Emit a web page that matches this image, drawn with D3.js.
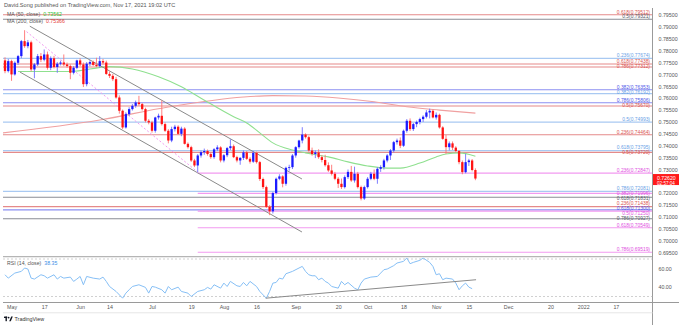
<!DOCTYPE html>
<html><head><meta charset="utf-8">
<script src="https://cdn.jsdelivr.net/npm/d3@7"></script>
<style>
html,body{margin:0;padding:0;background:#fff;}
svg{display:block;font-family:"Liberation Sans",Arial,sans-serif;}
</style></head><body>
<svg id="chart" width="679" height="325"></svg>
<script>
// AUD/USD daily candles, one row per trading day from 2021-04-29 to 2021-11-17: [open, high, low, close]
const ohlc = [
[.7759,.7772,.7705,.7714],[.7714,.7765,.7708,.7756],[.7756,.7762,.7673,.7700],[.7700,.7755,.7695,.7749],
[.7749,.7782,.7740,.7777],[.7777,.7845,.7768,.7840],[.7840,.7886,.7812,.7819],[.7819,.7845,.7810,.7835],
[.7835,.7842,.7713,.7721],[.7721,.7748,.7684,.7742],[.7742,.7786,.7735,.7777],[.7777,.7790,.7752,.7762],
[.7762,.7805,.7755,.7784],[.7784,.7796,.7720,.7728],[.7728,.7776,.7718,.7768],[.7768,.7778,.7725,.7731],
[.7731,.7752,.7707,.7745],[.7745,.7758,.7738,.7750],[.7750,.7784,.7735,.7742],[.7742,.7750,.7728,.7735],
[.7735,.7742,.7680,.7707],[.7707,.7735,.7700,.7728],[.7728,.7762,.7722,.7759],[.7759,.7768,.7735,.7742],
[.7742,.7750,.7647,.7659],[.7659,.7752,.7650,.7745],[.7745,.7760,.7735,.7752],[.7752,.7758,.7736,.7740],
[.7740,.7770,.7730,.7735],[.7735,.7777,.7728,.7756],[.7756,.7765,.7742,.7750],[.7750,.7758,.7698,.7702],
[.7702,.7712,.7685,.7694],[.7694,.7702,.7672,.7680],[.7680,.7690,.7598,.7603],[.7603,.7612,.7535,.7547],
[.7547,.7552,.7470,.7477],[.7477,.7540,.7472,.7533],[.7533,.7562,.7525,.7554],[.7554,.7575,.7548,.7568],
[.7568,.7590,.7560,.7582],[.7582,.7610,.7568,.7575],[.7575,.7580,.7548,.7554],[.7554,.7560,.7498,.7505],
[.7505,.7512,.7490,.7498],[.7498,.7505,.7455,.7463],[.7463,.7522,.7455,.7519],[.7519,.7535,.7510,.7526],
[.7526,.7590,.7485,.7491],[.7491,.7498,.7458,.7463],[.7463,.7470,.7410,.7422],[.7422,.7480,.7415,.7470],
[.7470,.7488,.7460,.7480],[.7480,.7486,.7445,.7450],[.7450,.7480,.7440,.7472],[.7472,.7478,.7405,.7408],
[.7408,.7414,.7388,.7394],[.7394,.7400,.7332,.7338],[.7338,.7345,.7310,.7317],[.7317,.7365,.7289,.7359],
[.7359,.7380,.7350,.7373],[.7373,.7388,.7362,.7378],[.7378,.7384,.7358,.7365],[.7365,.7372,.7345,.7352],
[.7352,.7390,.7345,.7385],[.7385,.7402,.7378,.7393],[.7393,.7398,.7330,.7338],[.7338,.7365,.7330,.7360],
[.7360,.7395,.7352,.7390],[.7390,.7427,.7382,.7398],[.7398,.7405,.7348,.7352],[.7352,.7358,.7330,.7338],
[.7338,.7352,.7320,.7349],[.7349,.7380,.7340,.7372],[.7372,.7378,.7340,.7345],[.7345,.7352,.7325,.7333],
[.7333,.7378,.7328,.7370],[.7370,.7375,.7325,.7331],[.7331,.7336,.7252,.7260],[.7260,.7266,.7218,.7226],
[.7226,.7232,.7138,.7143],[.7143,.7150,.7108,.7124],[.7124,.7206,.7115,.7201],[.7201,.7266,.7195,.7261],
[.7261,.7280,.7255,.7271],[.7271,.7276,.7225,.7240],[.7240,.7312,.7232,.7307],[.7307,.7320,.7295,.7310],
[.7310,.7365,.7302,.7359],[.7359,.7398,.7350,.7394],[.7394,.7425,.7388,.7422],[.7422,.7478,.7410,.7447],
[.7447,.7452,.7430,.7436],[.7436,.7442,.7375,.7380],[.7380,.7392,.7358,.7365],[.7365,.7380,.7348,.7372],
[.7372,.7385,.7345,.7352],[.7352,.7360,.7330,.7340],[.7340,.7362,.7312,.7318],[.7318,.7330,.7290,.7296],
[.7296,.7320,.7275,.7282],[.7282,.7290,.7255,.7261],[.7261,.7268,.7222,.7240],[.7240,.7262,.7218,.7226],
[.7226,.7275,.7220,.7268],[.7268,.7300,.7260,.7290],[.7290,.7315,.7248,.7254],[.7254,.7312,.7245,.7282],
[.7282,.7290,.7220,.7226],[.7226,.7232,.7170,.7178],[.7178,.7232,.7172,.7226],[.7226,.7268,.7220,.7261],
[.7261,.7290,.7255,.7282],[.7282,.7300,.7255,.7261],[.7261,.7310,.7240,.7303],[.7303,.7318,.7290,.7310],
[.7310,.7345,.7300,.7338],[.7338,.7365,.7330,.7359],[.7359,.7386,.7340,.7380],[.7380,.7420,.7372,.7415],
[.7415,.7430,.7405,.7422],[.7422,.7435,.7390,.7400],[.7400,.7468,.7395,.7463],[.7463,.7512,.7455,.7505],
[.7505,.7515,.7462,.7470],[.7470,.7496,.7462,.7491],[.7491,.7506,.7478,.7500],[.7500,.7518,.7490,.7512],
[.7512,.7528,.7500,.7522],[.7522,.7550,.7515,.7540],[.7540,.7556,.7515,.7547],[.7547,.7552,.7515,.7519],
[.7519,.7540,.7510,.7530],[.7530,.7535,.7472,.7477],[.7477,.7482,.7425,.7429],[.7429,.7445,.7366,.7394],
[.7394,.7418,.7380,.7410],[.7410,.7418,.7382,.7392],[.7392,.7398,.7372,.7378],[.7378,.7382,.7322,.7331],
[.7331,.7338,.7280,.7289],[.7289,.7366,.7284,.7331],[.7331,.7345,.7315,.7338],[.7338,.7344,.7292,.7298],
[.7298,.7305,.7255,.7262]
];
const lastPrice = 0.72620;
const countdown = "02:57:04";

// Moving averages, sampled at bar indexes
const ma50Bars   = [4, 20, 32, 39, 47, 54, 60, 70, 74, 78, 82, 88, 92, 99, 105, 111, 117, 121, 127, 132, 135, 139, 144];
const ma50Values = [.7712,.7712,.7733,.7723,.7690,.7648,.7600,.7522,.7496,.7454,.7412,.7382,.7370,.7353,.7332,.7315,.7306,.7306,.7327,.7353,.7365,.7370,.7356];
const ma200Bars   = [-2, 29, 50, 73, 82, 92, 102, 113, 123, 133, 144];
const ma200Values = [.7452,.7508,.7563,.7605,.7611,.7609,.7601,.7585,.7564,.7550,.7537];
const ma50Last = "0.73562", ma200Last = "0.75366";

// RSI(14) readings: bar index and value
const rsiBars = [0,1,3,5,6,7,8,9,11,12,13,15,16,17,18,20,21,22,23,24,25,27,29,30,31,32,34,36,37,38,39,41,43,44,45,46,48,49,50,51,53,54,56,57,59,61,62,63,64,66,67,68,69,71,72,73,74,75,77,78,80,81,82,83,84,85,86,88,90,91,92,93,94,95,96,97,98,99,100,102,103,104,105,107,108,109,110,112,114,115,116,117,119,120,122,123,124,125,127,128,130,131,132,133,134,135,137,138,139,140,141,142,143,144];
const rsiValues = [53.2,49.6,55.0,56.8,60.4,59.3,49.6,48.6,53.2,52.1,49.6,53.2,48.6,51.4,49.6,50.7,46.1,48.6,51.4,42.5,51.4,49.6,48.6,50.7,46.1,40.7,35.4,28.2,33.6,37.2,40.7,42.5,39.7,33.6,40.7,40.0,37.2,33.6,40.7,37.2,40.0,35.4,33.6,30.0,35.4,37.2,39.7,37.9,42.5,38.9,44.3,40.7,46.1,41.4,40.7,45.0,41.4,46.1,40.7,35.4,28.2,35.4,44.3,45.0,49.6,48.6,54.3,56.8,60.4,62.1,56.8,53.2,52.1,52.1,47.9,49.6,46.1,44.3,40.7,38.9,46.1,42.5,45.0,38.9,37.2,44.3,48.6,50.7,51.4,55.0,58.6,59.3,62.9,65.7,67.5,71.1,65.0,66.4,68.6,71.1,66.4,62.1,53.2,54.3,47.9,49.6,48.6,44.3,37.2,41.4,44.3,40.0,38.35];
const rsiLast = "38.35";

// Horizontal Fibonacci levels
const levelRatios = ["0.618","0.5","0.236","0.618","0.786","0.382","0.382","0.786","0.5","0.5","0.236","0.618","0.5","0.236","0.786","0.382","0.618","0.236","0.618","0.5","0.786","0.618","0.786"];
const levelPrices = [0.79512,0.79321,0.77674,0.77438,0.77312,0.76353,0.76192,0.75806,0.75670,0.74993,0.74464,0.73795,0.73720,0.72847,0.72081,0.71996,0.71831,0.71438,0.71300,0.71250,0.70927,0.70549,0.69519];
const levelGroups = ["red","gray","sky","red","red","blue","sky","blue","red","sky","red","sky","red","pink","sky","pink","gray","red","blue","pink","gray","pink","pink"];
const levelStartBars = [null,null,null,null,null,null,null,null,null,null,null,null,null,59,null,59,null,null,null,59,null,59,59];

// Trend lines: [bar, price] endpoints
const channelUpper = [[7.6, 0.79029], [90.9, 0.72601]];
const channelLower = [[4.6, 0.77098], [90.9, 0.70371]];
const fibTrend = [[6.6, 0.7880], [59, 0.7289]];
const rsiTrend = [[79.8, 28.2], [144.2, 47.9]];

// Price and time axis ticks
const priceTicks = [0.795,0.790,0.785,0.780,0.775,0.770,0.765,0.760,0.755,0.750,0.745,0.740,0.735,0.730,0.720,0.715,0.710,0.705,0.700,0.695];
const rsiTicks = [60, 40];
const timeTickDates = ["2021-05-03","2021-05-17","2021-06-01","2021-06-14","2021-07-01","2021-07-19","2021-08-02","2021-08-16","2021-09-01","2021-09-20","2021-10-01","2021-10-18","2021-11-01","2021-11-15","2021-12-01","2021-12-20","2022-01-03","2022-01-17"];
const timeTickLabels = ["May","17","Jun","14","Jul","19","Aug","16","Sep","20","Oct","18","Nov","15","Dec","20","2022","17"];

// ---- drawing ----
const svg = d3.select("#chart");
const W = 679, H = 325;
const plotL = 3, plotR = 652.5, mainTop = 10, mainBot = 256, rsiTop = 257.5, rsiBot = 302;
const colors = {red:"#e58a8a", gray:"#8a8c95", sky:"#a9c9f2", blue:"#8b8ff2", pink:"#f29af0"};
const textColors = {red:"#d9534f", gray:"#555a66", sky:"#6a9fe6", blue:"#4d55e8", pink:"#e04fe0"};

const parse = d3.timeParse("%Y-%m-%d");
const days = d3.timeDay.range(new Date(2021,3,29), new Date(2022,2,1)).filter(d => d.getDay() % 6 !== 0);
const barOf = d => days.findIndex(t => +t === +d);

const x = d3.scaleLinear().domain([0, 144]).range([5, 475.4]);
const y = d3.scaleLinear().domain([0.695, 0.795]).range([252.7, 15.0]);
const yR = d3.scaleLinear().domain([30, 70]).range([296.5, 259]);

const defs = svg.append("defs");
defs.append("clipPath").attr("id","clipMain").append("rect").attr("x",plotL).attr("y",mainTop).attr("width",plotR-plotL).attr("height",mainBot-mainTop);
defs.append("clipPath").attr("id","clipRsi").append("rect").attr("x",plotL).attr("y",rsiTop).attr("width",plotR-plotL).attr("height",rsiBot-rsiTop);

svg.append("rect").attr("width",W).attr("height",H).attr("fill","#fff");

// header
svg.append("text").attr("x",4).attr("y",7).attr("font-size",5.6).attr("fill","#555")
  .text("David.Song published on TradingView.com, Nov 17, 2021 19:02 UTC");

const main = svg.append("g").attr("clip-path","url(#clipMain)");

// horizontal levels
levelPrices.forEach((p,i) => {
  const x0 = levelStartBars[i] == null ? plotL : x(levelStartBars[i]);
  main.append("line").attr("x1",x0).attr("x2",plotR).attr("y1",y(p)).attr("y2",y(p))
    .attr("stroke",colors[levelGroups[i]]).attr("stroke-width",1.1);
});

// moving averages
const line = d3.line().curve(d3.curveMonotoneX);
main.append("path").attr("d", line(ma200Bars.map((b,i)=>[x(b), y(ma200Values[i])])))
  .attr("fill","none").attr("stroke","#f0a0a0").attr("stroke-width",1.1);
main.append("path").attr("d", line(ma50Bars.map((b,i)=>[x(b), y(ma50Values[i])])))
  .attr("fill","none").attr("stroke","#8fe08f").attr("stroke-width",1.1);

// channel and fib trend lines
[channelUpper, channelLower].forEach(seg => {
  main.append("line").attr("x1",x(seg[0][0])).attr("y1",y(seg[0][1])).attr("x2",x(seg[1][0])).attr("y2",y(seg[1][1]))
    .attr("stroke","#8a8a8a").attr("stroke-width",1);
});
main.append("line").attr("x1",x(fibTrend[0][0])).attr("y1",y(fibTrend[0][1])).attr("x2",x(fibTrend[1][0])).attr("y2",y(fibTrend[1][1]))
  .attr("stroke","#f29af0").attr("stroke-width",1).attr("stroke-dasharray","2,2");

// candles
const bw = 2.3;
const cg = main.append("g");
ohlc.forEach((d,i) => {
  const up = d[3] >= d[0];
  const c = up ? "#1b1bff" : "#ff1414";
  const cx = x(i);
  cg.append("line").attr("x1",cx).attr("x2",cx).attr("y1",y(d[1])).attr("y2",y(d[2]))
    .attr("stroke", up ? "#6f6fff" : "#ff7070").attr("stroke-width",0.9);
  const top = y(Math.max(d[0],d[3])), bot = y(Math.min(d[0],d[3]));
  cg.append("rect").attr("x",cx-bw/2).attr("y",top).attr("width",bw).attr("height",Math.max(0.8,bot-top)).attr("fill",c);
});

// level labels, nudged apart where neighbouring levels crowd each other
const labelFont = 4.9, labelGap = 4.9;
const order = d3.range(levelPrices.length).sort((a,b) => y(levelPrices[a]) - y(levelPrices[b]));
const labelY = {};
let prevY = -Infinity;
order.forEach(i => {
  let ly = y(levelPrices[i]) - 1.2;
  if (ly - prevY < labelGap) ly = prevY + labelGap;
  labelY[i] = ly; prevY = ly;
});
levelPrices.forEach((p,i) => {
  svg.append("text").attr("x",650).attr("y",labelY[i]).attr("text-anchor","end")
    .attr("font-size",labelFont).attr("fill",textColors[levelGroups[i]])
    .text(levelRatios[i] + "(" + p.toFixed(5) + ")");
});

// legend: title then value, the value placed after the measured title
function legendRow(parent, yPos, title, value, valueColor, size) {
  const t = parent.append("text").attr("x",7).attr("y",yPos).attr("font-size",size).attr("fill","#555").text(title);
  const w = t.node().getComputedTextLength();
  parent.append("text").attr("x",7 + w + 3).attr("y",yPos).attr("font-size",size).attr("fill",valueColor).text(value);
}
legendRow(svg, 16, "MA (50, close)", ma50Last, "#2fbf2f", 5.2);
legendRow(svg, 22.5, "MA (200, close)", ma200Last, "#e53935", 5.2);

// pane separators
svg.append("line").attr("x1",plotL).attr("x2",plotR).attr("y1",256.6).attr("y2",256.6).attr("stroke","#b5b5b5").attr("stroke-width",1.4);
svg.append("line").attr("x1",plotL).attr("x2",W).attr("y1",302.5).attr("y2",302.5).attr("stroke","#9a9a9a").attr("stroke-width",1);
svg.append("line").attr("x1",plotR).attr("x2",plotR).attr("y1",8).attr("y2",H).attr("stroke","#9a9a9a").attr("stroke-width",1);

// price axis
const pa = svg.append("g").attr("transform",`translate(${plotR},0)`)
  .call(d3.axisRight(y).tickValues(priceTicks).tickFormat(d3.format(".5f")).tickSize(0).tickPadding(6));
pa.select(".domain").remove();
pa.selectAll("text").attr("font-size",5.3).attr("fill","#555").attr("font-family","Liberation Sans, Arial, sans-serif");

// current price tag
const ty = y(lastPrice);
svg.append("rect").attr("x",653).attr("y",ty-4.5).attr("width",26).attr("height",11).attr("fill","#ff1a1a");
svg.append("text").attr("x",657).attr("y",ty+1.2).attr("font-size",5.2).attr("fill","#fff").text(lastPrice.toFixed(5));
svg.append("text").attr("x",657).attr("y",ty+6).attr("font-size",4.6).attr("fill","#fff").text(countdown);

// RSI pane
const rsi = svg.append("g").attr("clip-path","url(#clipRsi)");
[70,30].forEach(v => rsi.append("line").attr("x1",plotL).attr("x2",plotR).attr("y1",yR(v)).attr("y2",yR(v))
  .attr("stroke","#c4c4c4").attr("stroke-width",0.8).attr("stroke-dasharray","2,2"));
rsi.append("path").attr("d", d3.line()(rsiBars.map((b,i)=>[x(b), yR(rsiValues[i])])))
  .attr("fill","none").attr("stroke","#86bff5").attr("stroke-width",1);
rsi.append("line").attr("x1",x(rsiTrend[0][0])).attr("y1",yR(rsiTrend[0][1])).attr("x2",x(rsiTrend[1][0])).attr("y2",yR(rsiTrend[1][1]))
  .attr("stroke","#8a8a8a").attr("stroke-width",1);
legendRow(svg, 265, "RSI (14, close)", rsiLast, "#3a8ee6", 5.2);

const ra = svg.append("g").attr("transform",`translate(${plotR},0)`)
  .call(d3.axisRight(yR).tickValues(rsiTicks).tickFormat(d3.format(".2f")).tickSize(0).tickPadding(6));
ra.select(".domain").remove();
ra.selectAll("text").attr("font-size",5.3).attr("fill","#555").attr("font-family","Liberation Sans, Arial, sans-serif");

// time axis
const tickBars = timeTickDates.map(s => barOf(parse(s)));
const xa = svg.append("g").attr("transform","translate(0,302.5)")
  .call(d3.axisBottom(x).tickValues(tickBars).tickFormat((d,i) => timeTickLabels[i]).tickSize(0).tickPadding(3));
xa.select(".domain").remove();
xa.selectAll("text").attr("font-size",5.3).attr("fill","#555").attr("font-family","Liberation Sans, Arial, sans-serif");

svg.append("line").attr("x1",plotL).attr("x2",plotR).attr("y1",312.8).attr("y2",312.8).attr("stroke","#e6e6e6");

// footer brand mark and name
const fb = svg.append("g").attr("transform","translate(4,316)");
fb.append("rect").attr("x",0).attr("y",0.6).attr("width",3.2).attr("height",1.4).attr("fill","#131722");
fb.append("rect").attr("x",1.5).attr("y",0.6).attr("width",1.4).attr("height",4.6).attr("fill","#131722");
fb.append("circle").attr("cx",4.6).attr("cy",1.6).attr("r",0.9).attr("fill","#131722");
fb.append("path").attr("d","M5.2,5.2 L7.2,0.6 L8.8,0.6 L6.8,5.2 Z").attr("fill","#131722");
fb.append("text").attr("x",10.5).attr("y",5).attr("font-size",5.4).attr("fill","#333").text("TradingView");
</script></body></html>
